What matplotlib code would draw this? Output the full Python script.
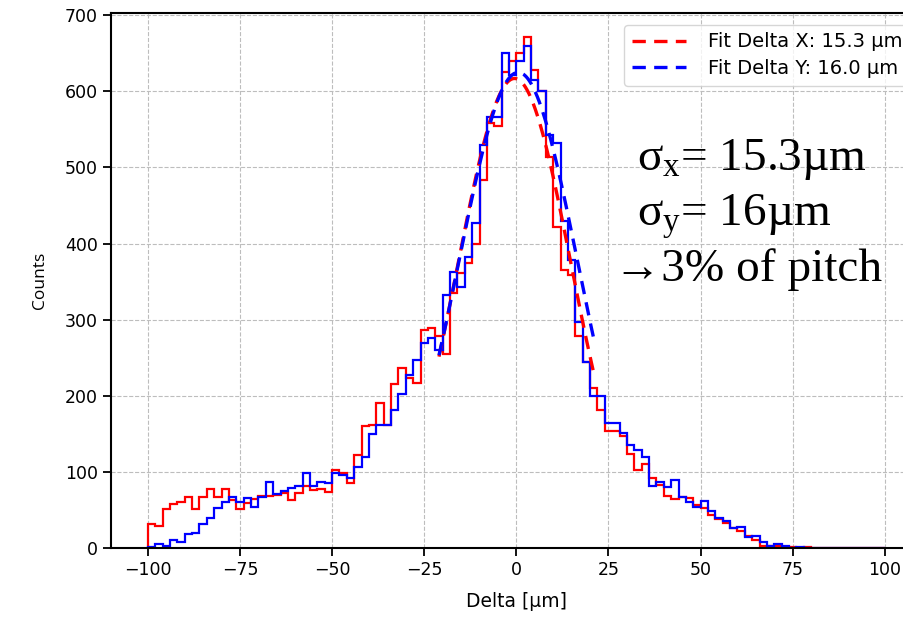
import matplotlib
matplotlib.use("Agg")
import matplotlib.pyplot as plt
import numpy as np

plt.rcParams['font.family'] = ['DejaVu Sans']
plt.rcParams['mathtext.fontset'] = 'custom'
plt.rcParams['mathtext.rm'] = 'Liberation Serif'
plt.rcParams['mathtext.it'] = 'Liberation Serif'

# histogram bins: 2 um wide from -100 to 100
bin_lo, bin_hi, bin_w = -100, 100, 2

counts_x = [32, 29, 51, 58, 61, 67, 51, 67, 77, 67,
            77, 63, 51, 59, 64, 68, 68, 70, 72, 63,
            72, 81, 76, 77, 74, 102, 98, 86, 122, 160,
            161, 191, 161, 216, 236, 223, 217, 287, 289, 278,
            255, 335, 361, 374, 400, 484, 558, 554, 625, 640,
            650, 672, 628, 600, 514, 422, 365, 359, 278, 244,
            210, 181, 154, 154, 147, 124, 103, 110, 92, 83,
            68, 65, 67, 66, 57, 52, 43, 38, 33, 26,
            22, 16, 10, 3, 3, 2, 1, 1, 0, 1,
            0, 0, 0, 0, 0, 0, 0, 0, 0, 0]

counts_y = [1, 5, 3, 11, 8, 19, 20, 32, 40, 53,
            60, 67, 61, 66, 54, 67, 87, 71, 75, 79,
            82, 98, 81, 87, 85, 99, 96, 92, 106, 120,
            150, 161, 161, 181, 203, 227, 247, 270, 276, 260,
            332, 363, 343, 383, 427, 530, 567, 567, 651, 622,
            640, 660, 615, 600, 543, 532, 430, 378, 297, 244,
            200, 200, 164, 164, 151, 135, 129, 119, 81, 87,
            80, 89, 67, 61, 54, 62, 48, 39, 35, 26,
            27, 15, 16, 8, 2, 5, 2, 0, 1, 0,
            0, 0, 0, 0, 0, 0, 0, 0, 0, 0]

# gaussian fit results (amplitude, mean, sigma) and fit range
fit_x = (617, -0.5, 15.3)
fit_y = (625, 0.5, 16.0)
fit_lo, fit_hi = -21, 21

edges = np.arange(bin_lo, bin_hi + bin_w, bin_w)

fig = plt.figure(figsize=(9.04, 6.23), dpi=100)
# axes run past the right edge of the picture, as in the reference
ax = fig.add_axes([0.1228, 0.1204, 0.8968, 0.8587])

ax.stairs(counts_x, edges, color="red", linewidth=1.6)
ax.stairs(counts_y, edges, color="blue", linewidth=1.6)

xf = np.linspace(fit_lo, fit_hi, 300)
def gauss(x, a, mu, s):
    return a * np.exp(-(x - mu) ** 2 / (2 * s ** 2))

ax.plot(xf, gauss(xf, *fit_x), color="red", linestyle="--", linewidth=2.4,
        dashes=(4, 2.5), label="Fit Delta X: %.1f µm" % fit_x[2])
ax.plot(xf, gauss(xf, *fit_y), color="blue", linestyle="--", linewidth=2.4,
        dashes=(4, 2.5), label="Fit Delta Y: %.1f µm" % fit_y[2])

ax.set_xlim(-110, 110)
ax.set_ylim(0, 703)
ax.set_xticks([-100, -75, -50, -25, 0, 25, 50, 75, 100])
ax.set_yticks(range(0, 701, 100))
ax.grid(True, linestyle="--", color="#bdbdbd", linewidth=0.8)
ax.set_axisbelow(True)
for s in ax.spines.values():
    s.set_linewidth(1.5)
ax.tick_params(labelsize=12.5, width=1.3, length=6)
ax.set_xlabel("Delta [µm]", fontsize=13.5, labelpad=9)
ax.set_ylabel("Counts", fontsize=12.5, family="Open Sans", labelpad=12)

ax.legend(loc="upper right", fontsize=14, framealpha=0.8, handlelength=2.8,
          handletextpad=1.1, borderaxespad=0.6, labelspacing=0.4)

serif = ['Liberation Serif', 'DejaVu Serif']
fig.text(0.705, 0.727, r"σ$_\mathrm{x}$= 15.3µm", fontsize=34, family=serif)
fig.text(0.705, 0.637, r"σ$_\mathrm{y}$= 16µm", fontsize=34, family=serif)
fig.text(0.679, 0.549, "→3% of pitch", fontsize=34, family=serif)

fig.savefig("out.png", dpi=100)
